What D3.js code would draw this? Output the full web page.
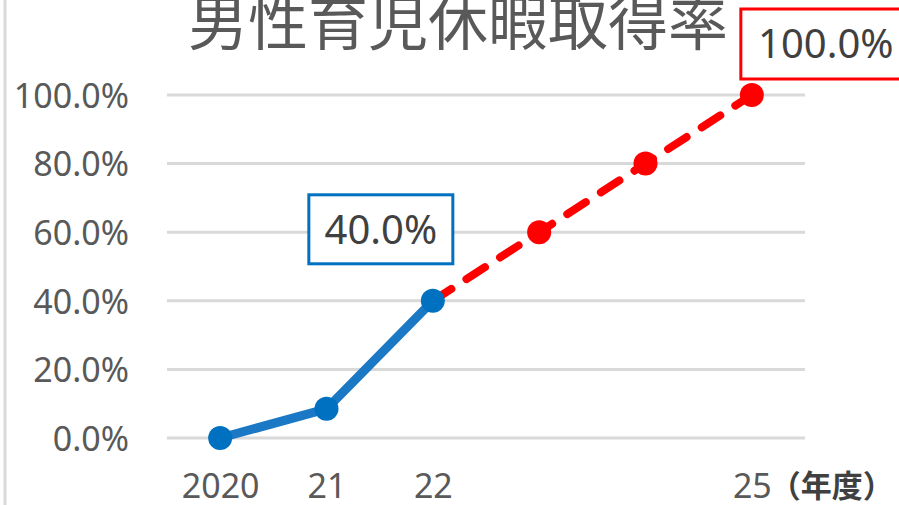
<!DOCTYPE html>
<html>
<head>
<meta charset="utf-8">
<script src="https://cdn.jsdelivr.net/npm/d3@7"></script>
<style>
  body { margin: 0; background: #fff; }
  svg { display: block; }
  .tick text { fill: #595959; }
</style>
</head>
<body>
<div id="chart"></div>
<script>
"use strict";

// chart data
var years = ["2020", "21", "22", "23", "24", "25"];
var xTickLabels = ["2020", "21", "22", "", "", "25"];
var actual = [0, 0.085, 0.40, null, null, null];   // 実績
var target = [null, null, 0.40, 0.60, 0.80, 1.00]; // 目標
var yTicks = [0, 0.2, 0.4, 0.6, 0.8, 1.0];
var title = "男性育児休暇取得率";
var unitLabel = "（年度）";

var width = 899, height = 505;
var plot = { left: 167, right: 805, top: 95, bottom: 438 };

var svg = d3.select("#chart").append("svg")
  .attr("width", width)
  .attr("height", height);

var x = d3.scalePoint()
  .domain(years)
  .range([plot.left, plot.right])
  .padding(0.5);

var y = d3.scaleLinear()
  .domain([0, 1])
  .range([plot.bottom, plot.top]);

var pct = d3.format(".1%");
var numFont = "'Noto Sans', 'DejaVu Sans', sans-serif";
var cjkFont = "'Noto Sans CJK JP', 'Noto Sans', sans-serif";

// left border line of the chart area
svg.append("line")
  .attr("x1", 5).attr("x2", 5)
  .attr("y1", 0).attr("y2", height)
  .style("stroke", "#d9d9d9")
  .style("stroke-width", 3);

// gridlines
svg.append("g")
  .selectAll("line")
  .data(yTicks).enter()
  .append("line")
  .attr("x1", plot.left).attr("x2", plot.right)
  .attr("y1", function(d) { return y(d); })
  .attr("y2", function(d) { return y(d); })
  .style("stroke", "#d9d9d9")
  .style("stroke-width", 3);

// y axis labels
var yAxis = svg.append("g")
  .attr("transform", "translate(" + (plot.left - 38) + ",0)")
  .call(d3.axisLeft(y).tickValues(yTicks).tickFormat(pct).tickSize(0).tickPadding(0));
yAxis.select(".domain").remove();
yAxis.selectAll("text")
  .style("font-family", numFont)
  .style("font-size", "34px")
  .attr("dy", "0.36em");

// x axis labels
var xAxis = svg.append("g")
  .attr("transform", "translate(0," + plot.bottom + ")")
  .call(d3.axisBottom(x).tickFormat(function(d, i) { return xTickLabels[i]; }).tickSize(0).tickPadding(0));
xAxis.select(".domain").remove();
xAxis.selectAll("text")
  .style("font-family", numFont)
  .style("font-size", "34px")
  .attr("dy", null)
  .attr("y", 60);

svg.append("text")
  .attr("x", x("25") + 18)
  .attr("y", 497)
  .style("font-family", cjkFont)
  .style("font-size", "31px")
  .style("font-weight", "bold")
  .style("fill", "#404040")
  .text(unitLabel);

// title
svg.append("text")
  .attr("x", 458)
  .attr("y", 45)
  .attr("text-anchor", "middle")
  .style("font-family", cjkFont)
  .style("font-size", "60px")
  .style("fill", "#595959")
  .text(title);

// lines
var line = d3.line()
  .defined(function(d) { return d.v != null; })
  .x(function(d) { return x(d.year); })
  .y(function(d) { return y(d.v); });

var targetData = years.map(function(yr, i) { return { year: yr, v: target[i] }; });
var actualData = years.map(function(yr, i) { return { year: yr, v: actual[i] }; });

svg.append("path")
  .datum(targetData)
  .attr("d", line)
  .style("fill", "none")
  .style("stroke", "#ff0000")
  .style("stroke-width", 8)
  .style("stroke-linecap", "round")
  .style("stroke-dasharray", "22,18");

svg.selectAll(".target-dot")
  .data(targetData.filter(function(d) { return d.v != null && d.year !== "22"; })).enter()
  .append("circle")
  .attr("class", "target-dot")
  .attr("cx", function(d) { return x(d.year); })
  .attr("cy", function(d) { return y(d.v); })
  .attr("r", 12)
  .style("fill", "#ff0000");

svg.append("path")
  .datum(actualData)
  .attr("d", line)
  .style("fill", "none")
  .style("stroke", "#1a78c4")
  .style("stroke-width", 9)
  .style("stroke-linejoin", "round");

svg.selectAll(".actual-dot")
  .data(actualData.filter(function(d) { return d.v != null; })).enter()
  .append("circle")
  .attr("class", "actual-dot")
  .attr("cx", function(d) { return x(d.year); })
  .attr("cy", function(d) { return y(d.v); })
  .attr("r", 12)
  .style("fill", "#0070c0");

// callout labels
function callout(year, v, color, dx, dy, w, h) {
  var bx = x(year) + dx, by = y(v) + dy;
  var g = svg.append("g");
  g.append("rect")
    .attr("x", bx).attr("y", by)
    .attr("width", w).attr("height", h)
    .style("fill", "#fff")
    .style("stroke", color)
    .style("stroke-width", 3);
  g.append("text")
    .attr("x", bx + w / 2)
    .attr("y", by + h / 2)
    .attr("dy", "0.36em")
    .attr("text-anchor", "middle")
    .style("font-family", numFont)
    .style("font-size", "40px")
    .style("fill", "#404040")
    .text(pct(v));
}
callout("22", actual[2], "#0070c0", -124, -106, 144, 69);
callout("25", target[5], "#ff0000", -11, -86, 170, 70);
</script>
</body>
</html>
